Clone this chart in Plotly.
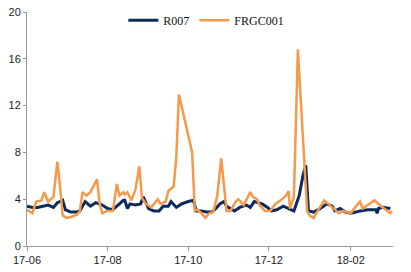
import plotly.graph_objects as go

r007_dates = ["2017-06-01","2017-06-05","2017-06-09","2017-06-13","2017-06-17","2017-06-21","2017-06-24","2017-06-28","2017-06-30",
              "2017-07-04","2017-07-08","2017-07-11","2017-07-15","2017-07-19","2017-07-23","2017-07-28",
              "2017-08-01","2017-08-05","2017-08-09","2017-08-13","2017-08-14","2017-08-16","2017-08-18","2017-08-22","2017-08-26","2017-08-28",
              "2017-09-01","2017-09-05","2017-09-09","2017-09-12","2017-09-16","2017-09-18","2017-09-22","2017-09-26",
              "2017-10-01","2017-10-05","2017-10-07","2017-10-11","2017-10-15","2017-10-19","2017-10-22","2017-10-25","2017-10-28","2017-10-30",
              "2017-11-05","2017-11-09","2017-11-14","2017-11-17","2017-11-20","2017-11-26","2017-11-30",
              "2017-12-03","2017-12-07","2017-12-12","2017-12-16","2017-12-20","2017-12-24","2017-12-27","2017-12-29","2017-12-31",
              "2018-01-04","2018-01-09","2018-01-14","2018-01-18","2018-01-20","2018-01-24","2018-01-28",
              "2018-02-01","2018-02-05","2018-02-08","2018-02-14","2018-02-20","2018-02-21","2018-02-22","2018-02-25","2018-03-01","2018-03-03"]
r007_values = [3.4,3.3,3.3,3.4,3.5,3.3,3.7,3.9,3.1,
               2.9,2.9,3.0,3.8,3.4,3.7,3.5,
               3.2,3.1,3.5,3.9,3.9,3.2,3.6,3.5,3.6,4.2,
               3.2,3.0,3.0,3.4,3.4,3.8,3.3,3.6,
               3.8,3.9,3.0,3.0,2.9,2.9,3.2,3.6,3.8,3.4,
               3.0,3.3,3.5,3.3,3.8,3.6,3.3,
               3.0,3.1,3.4,3.2,3.0,4.3,6.1,6.9,3.0,
               2.9,3.2,3.6,3.4,3.0,3.2,2.9,
               2.8,2.9,3.0,3.1,3.1,2.8,3.2,3.3,3.2,3.2]

frgc_dates = ["2017-06-01","2017-06-05","2017-06-08","2017-06-12","2017-06-14","2017-06-17","2017-06-21","2017-06-24","2017-06-26","2017-06-28",
              "2017-07-01","2017-07-05","2017-07-09","2017-07-11","2017-07-13","2017-07-16","2017-07-19","2017-07-21","2017-07-24","2017-07-26","2017-07-28",
              "2017-08-01","2017-08-05","2017-08-08","2017-08-10","2017-08-13","2017-08-14","2017-08-16","2017-08-19","2017-08-22","2017-08-25","2017-08-27","2017-08-30",
              "2017-09-03","2017-09-08","2017-09-10","2017-09-14","2017-09-16","2017-09-20","2017-09-22","2017-09-24",
              "2017-10-04","2017-10-06","2017-10-08","2017-10-11","2017-10-14","2017-10-17","2017-10-20","2017-10-23","2017-10-26","2017-10-30",
              "2017-11-02","2017-11-06","2017-11-08","2017-11-12","2017-11-17","2017-11-19","2017-11-22","2017-11-24","2017-11-28",
              "2017-12-02","2017-12-06","2017-12-10","2017-12-14","2017-12-16","2017-12-17","2017-12-20","2017-12-23","2017-12-30",
              "2018-01-01","2018-01-04","2018-01-07","2018-01-12","2018-01-15","2018-01-19","2018-01-23","2018-01-26",
              "2018-02-01","2018-02-05","2018-02-08","2018-02-10","2018-02-14","2018-02-19","2018-02-24","2018-03-01","2018-03-03","2018-03-04"]
frgc_values = [3.1,2.8,3.8,3.9,4.6,3.8,4.2,7.2,5.1,2.6,
               2.4,2.5,2.7,3.0,4.6,4.3,4.6,5.0,5.7,3.6,2.8,
               3.0,3.0,5.3,4.3,4.6,4.4,4.6,3.9,4.8,6.8,4.1,3.6,
               3.3,4.0,3.6,3.8,4.7,5.1,7.6,12.95,
               8.0,3.0,3.1,2.8,2.4,2.8,2.9,4.3,7.5,3.0,
               3.0,3.8,4.0,3.5,4.6,4.2,4.0,3.5,3.0,
               3.0,3.6,3.9,4.3,4.7,3.2,4.2,16.8,3.0,
               2.6,2.4,3.0,3.9,3.6,3.2,2.8,3.0,
               2.8,3.4,3.8,3.2,3.5,3.9,3.4,3.0,2.8,3.0]

y_ticks = [0, 4, 8, 12, 16, 20]

fig = go.Figure()
fig.add_trace(go.Scatter(x=r007_dates, y=r007_values, mode="lines", name="R007",
                         line=dict(color="#0E2A5C", width=3)))
fig.add_trace(go.Scatter(x=frgc_dates, y=frgc_values, mode="lines", name="FRGC001",
                         line=dict(color="#F5994A", width=2.5)))

axis_font = dict(family="Liberation Sans, Arial", size=11, color="#222222")
fig.update_layout(
    width=411, height=272,
    margin=dict(l=27, r=18, t=6, b=23),
    paper_bgcolor="white", plot_bgcolor="white",
    showlegend=True,
    legend=dict(orientation="h", x=0.49, y=0.965, xanchor="center", yanchor="middle",
                font=dict(family="Liberation Serif, DejaVu Serif", size=12, color="#111111"),
                bgcolor="rgba(0,0,0,0)", itemwidth=30, tracegroupgap=0),
    xaxis=dict(type="date", range=["2017-06-01", "2018-03-05"], tick0="2017-06-01", dtick="M2",
               tickformat="%y-%m", showgrid=False, zeroline=False,
               showline=True, linecolor="#999999", linewidth=1,
               ticks="outside", ticklen=4, tickcolor="#999999", tickfont=axis_font),
    yaxis=dict(range=[0, 20], tickvals=y_ticks, showgrid=False, zeroline=False,
               showline=True, linecolor="#999999", linewidth=1,
               ticks="outside", ticklen=3, tickcolor="#999999", tickfont=axis_font),
)

fig.write_html("out.html")
